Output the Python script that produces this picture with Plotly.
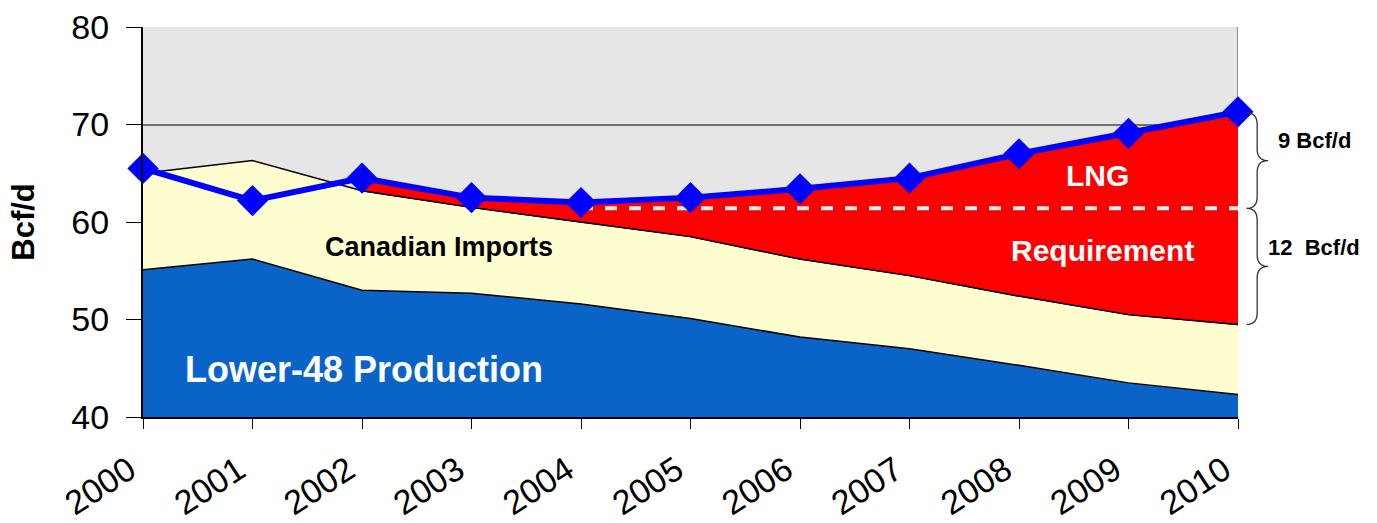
import plotly.graph_objects as go

years = list(range(2000, 2011))
lower48 = [55.1, 56.2, 53.0, 52.7, 51.6, 50.1, 48.2, 47.0, 45.3, 43.5, 42.3]
canada_top = [65.0, 66.3, 63.2, 61.5, 60.0, 58.5, 56.2, 54.5, 52.4, 50.5, 49.5]
demand = [65.5, 62.2, 64.5, 62.5, 62.0, 62.5, 63.4, 64.5, 67.0, 69.1, 71.3]
dash_level = 61.4
ytick_vals = [40, 50, 60, 70, 80]

FONT = "Liberation Sans, Arial"

fig = go.Figure()

# Lower-48 production area
fig.add_trace(go.Scatter(x=years, y=lower48, mode="lines", fill="tozeroy",
                         fillcolor="#0a64c8", line=dict(color="black", width=1.5),
                         showlegend=False, hoverinfo="skip"))
# Canadian imports area
fig.add_trace(go.Scatter(x=years, y=canada_top, mode="lines", fill="tonexty",
                         fillcolor="#fdfdcf", line=dict(color="black", width=1.5),
                         showlegend=False, hoverinfo="skip"))
# LNG requirement red area (from 2002)
fig.add_trace(go.Scatter(x=years[2:], y=canada_top[2:], mode="lines",
                         line=dict(color="black", width=1.5),
                         showlegend=False, hoverinfo="skip"))
fig.add_trace(go.Scatter(x=years[2:], y=demand[2:], mode="lines", fill="tonexty",
                         fillcolor="#ff0000", line=dict(color="rgba(0,0,0,0)", width=0),
                         showlegend=False, hoverinfo="skip"))

# dashed line
fig.add_trace(go.Scatter(x=[2004, 2010], y=[dash_level, dash_level], mode="lines",
                         line=dict(color="#d4eeee", width=4, dash="dash"),
                         showlegend=False, hoverinfo="skip"))

# Demand line
fig.add_trace(go.Scatter(x=years, y=demand, mode="lines+markers",
                         line=dict(color="#0000ff", width=6),
                         marker=dict(symbol="diamond", size=24, color="#0000ff"),
                         cliponaxis=False, showlegend=False, hoverinfo="skip"))

# right border of plot
fig.add_shape(type="line", xref="x", yref="y", x0=2010, x1=2010, y0=40, y1=80,
              line=dict(color="#707070", width=1.5), layer="below")


def brace(ytop, ybot, x0=1.008, xm=1.0175, x1=1.0275, d=1.2):
    ymid = (ytop + ybot) / 2
    return (f"M {x0},{ytop} Q {xm},{ytop} {xm},{ytop-d} L {xm},{ymid+d} "
            f"Q {xm},{ymid} {x1},{ymid} Q {xm},{ymid} {xm},{ymid-d} "
            f"L {xm},{ybot+d} Q {xm},{ybot} {x0},{ybot}")


fig.add_shape(type="path", xref="paper", yref="y", path=brace(71.2, 61.4),
              line=dict(color="#333333", width=1.3))
fig.add_shape(type="path", xref="paper", yref="y", path=brace(61.4, 49.5),
              line=dict(color="#333333", width=1.3))

ann = [
    (2008.72, 64.8, "<b>LNG</b>", 30, "white"),
    (2008.76, 57.1, "<b>Requirement</b>", 30, "white"),
    (2002.7, 57.4, "<b>Canadian Imports</b>", 27, "black"),
    (2002.02, 44.9, "<b>Lower-48 Production</b>", 36, "white"),
]
for x, y, t, s, c in ann:
    fig.add_annotation(xref="x", yref="y", x=x, y=y, text=t, showarrow=False,
                       font=dict(family=FONT, size=s, color=c))

fig.add_annotation(xref="paper", yref="y", x=1.070, y=68.4, text="<b>9 Bcf/d</b>",
                   xanchor="center", showarrow=False,
                   font=dict(family=FONT, size=22, color="black"))
fig.add_annotation(xref="paper", yref="y", x=1.069, y=57.4, text="<b>12  Bcf/d</b>",
                   xanchor="center", showarrow=False,
                   font=dict(family=FONT, size=22, color="black"))

fig.update_layout(
    width=1377, height=523,
    margin=dict(l=143, r=139, t=27, b=106, autoexpand=False),
    paper_bgcolor="white", plot_bgcolor="#e6e6e6",
    font=dict(family=FONT, color="black"),
    xaxis=dict(range=[2000, 2010], tickvals=years, ticktext=[str(y) for y in years],
               tickangle=-33, tickfont=dict(size=34), showgrid=False,
               ticklabelshift=-14, ticklabelstandoff=8, automargin=False,
               showline=True, linecolor="black", linewidth=2,
               ticks="outside", ticklen=10, tickcolor="black", zeroline=False),
    yaxis=dict(range=[40, 80], tickvals=ytick_vals, tickfont=dict(size=34),
               ticklabelstandoff=10, automargin=False,
               showgrid=True, gridcolor="#707070", gridwidth=1.5,
               showline=True, linecolor="black", linewidth=2,
               ticks="outside", ticklen=15, tickcolor="black", zeroline=False,
               title=dict(text="<b>Bcf/d</b>", font=dict(size=31), standoff=28)),
)

fig.write_html("out.html")
